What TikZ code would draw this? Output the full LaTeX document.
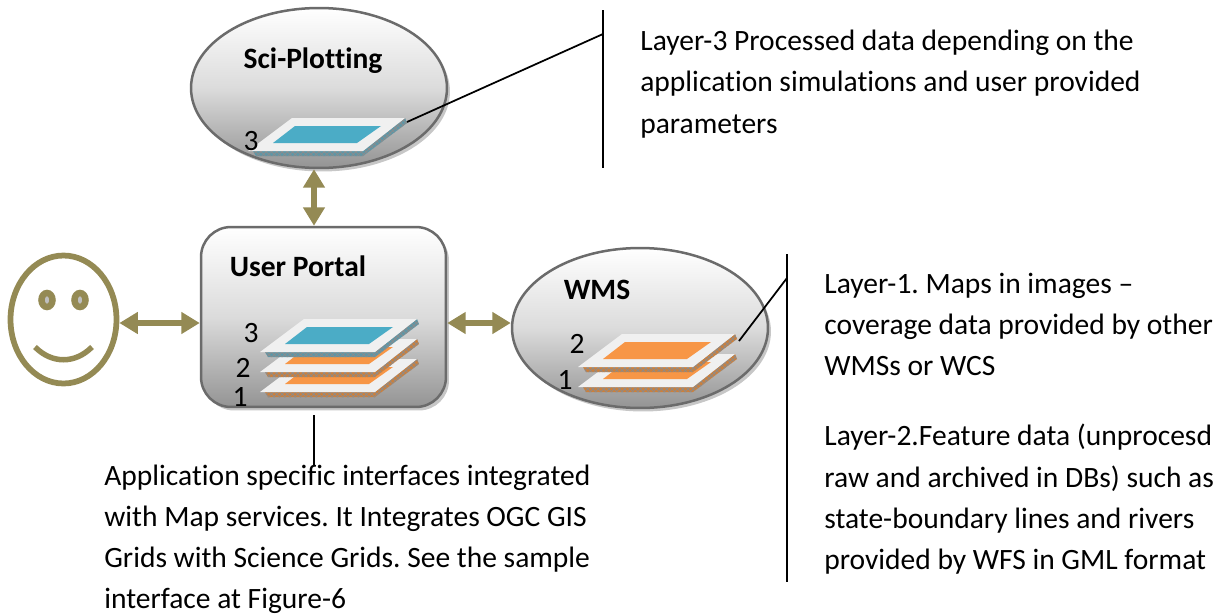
\documentclass[tikz,border=0pt]{standalone}
\usepackage{fontspec}
\setmainfont[Ligatures=NoCommon]{Carlito}
\frenchspacing
\usetikzlibrary{arrows.meta,shapes.geometric,shadows,patterns}
\definecolor{oliveline}{HTML}{948A54}
\definecolor{sheetblue}{HTML}{4BACC6}
\definecolor{sideblue}{HTML}{5F96A6}
\definecolor{sheetorange}{HTML}{F79646}
\definecolor{sideorange}{HTML}{C9803F}
\tikzset{
	>=latex,
	shadedbox/.style={
			draw=black!58, line width=0.05cm, inner sep=0pt,
			top color=white, bottom color=black!42, middle color=black!14,
			general shadow={fill=black!22, shadow xshift=0.06cm, shadow yshift=-0.07cm}
		},
	ovalbox/.style={shadedbox, shape=ellipse, minimum width=5.12cm, minimum height=3.2cm},
	portalbox/.style={shadedbox, rounded corners=0.6cm, minimum width=4.9cm, minimum height=3.6cm},
	linkarrow/.style={
			{Triangle[length=0.37cm,width=0.42cm]}-{Triangle[length=0.37cm,width=0.42cm]},
			oliveline, line width=0.13cm
		},
	faceline/.style={draw=oliveline, line width=0.115cm},
	eyeball/.style={faceline, shape=ellipse, fill=black!25, line width=0.13cm, minimum width=0.22cm, minimum height=0.28cm, inner sep=0pt},
	calloutline/.style={draw=black, line width=0.035cm},
	heading/.style={font=\fontsize{16.8}{20}\selectfont\bfseries, inner sep=0pt},
	layernum/.style={font=\fontsize{16.8}{20}\selectfont, inner sep=0pt},
	note/.style={font=\fontsize{16.8}{23.4}\selectfont, align=left, anchor=north west, inner sep=0pt},
	sheet/.pic={
			\path[fill=side#1, postaction={pattern=crosshatch, pattern color=black!45}]
				(5,0) -- (115,0) -- (157,-33) -- (159,-28) -- (115,5) -- (8,5) -- cycle;
			\fill[black!6] (0,0) -- (115,0) -- (157,-33) -- (44,-33) -- cycle;
			\fill[sheet#1] (25,-8) -- (109,-8) -- (133,-25) -- (47,-25) -- cycle;
		}
}

\begin{document}
\begin{tikzpicture}[x=0.02cm,y=-0.02cm]
	\useasboundingbox (0,0) rectangle (1225,613);

	\node[ovalbox] (sciplot) at (319,88) {};
	\node[portalbox] (portal) at (323.5,317) {};
	\node[ovalbox] (wms) at (640,328) {};
	\node[faceline, shape=ellipse, minimum width=2.12cm, minimum height=2.56cm, inner sep=0pt] (face) at (63.5,319.5) {};
	\node[eyeball] (lefteye) at (47,300) {};
	\node[eyeball] (righteye) at (80,300) {};
	\draw[faceline, line width=0.11cm] (35,347) .. controls (52,364) and (75,364) .. (92,347);

	\node[heading] (scilabel) at (313,61) {Sci-Plotting};
	\node[heading] (portallabel) at (298,266) {User Portal};
	\node[heading] (wmslabel) at (597,290) {WMS};

	\pic at (248,151) {sheet=blue};
	\pic at (260,392) {sheet=orange};
	\pic at (260,372) {sheet=orange};
	\pic at (260,352) {sheet=blue};
	\pic at (578,387) {sheet=orange};
	\pic at (578,367) {sheet=orange};

	\node[layernum] (sci3) at (251,141) {3};
	\node[layernum] (portal3) at (251,333) {3};
	\node[layernum] (portal2) at (243,368) {2};
	\node[layernum] (portal1) at (240,397) {1};
	\node[layernum] (wms2) at (577,344) {2};
	\node[layernum] (wms1) at (565,380) {1};

	\coordinate (uplink) at (314,0);
	\coordinate (midlink) at (0,323);
	\draw[linkarrow] (sciplot.south -| uplink) -- (portal.north -| uplink);
	\draw[linkarrow] (face.east |- midlink) -- (portal.west |- midlink);
	\draw[linkarrow] (portal.east |- midlink) -- (wms.west |- midlink);

	\coordinate (scitop) at (603,10);
	\coordinate (scibottom) at (603,168);
	\coordinate (scijoin) at (603,34);
	\coordinate (scisheet) at (407,122);
	\coordinate (wmstop) at (787,254);
	\coordinate (wmsbottom) at (787,582);
	\coordinate (wmsjoin) at (787,278);
	\coordinate (wmssheet) at (739,341);
	\coordinate (portaltop) at (314,415);
	\coordinate (portalbottom) at (314,466);
	\draw[calloutline] (scitop) -- (scibottom);
	\draw[calloutline] (scijoin) -- (scisheet);
	\draw[calloutline] (wmstop) -- (wmsbottom);
	\draw[calloutline] (wmsjoin) -- (wmssheet);
	\draw[calloutline] (portaltop) -- (portalbottom);

	\node[note] (scinote) at (640,30) {Layer-3 Processed data depending on the\\application simulations and user provided\\parameters};
	\node[note] (mapsnote) at (824,273) {Layer-1. Maps in images --\\coverage data provided by other\\WMSs or WCS};
	\node[note] (featurenote) at (824,424) {Layer-2.Feature data (unprocesd\\raw and archived in DBs) such as\\state-boundary lines and rivers\\provided by WFS in GML format};
	\node[note, font=\fontsize{16.8}{23.2}\selectfont] (portalnote) at (104,465) {Application specific interfaces integrated\\with Map services. It Integrates OGC GIS\\Grids with Science Grids. See the sample\\interface at Figure-6};
\end{tikzpicture}
\end{document}
